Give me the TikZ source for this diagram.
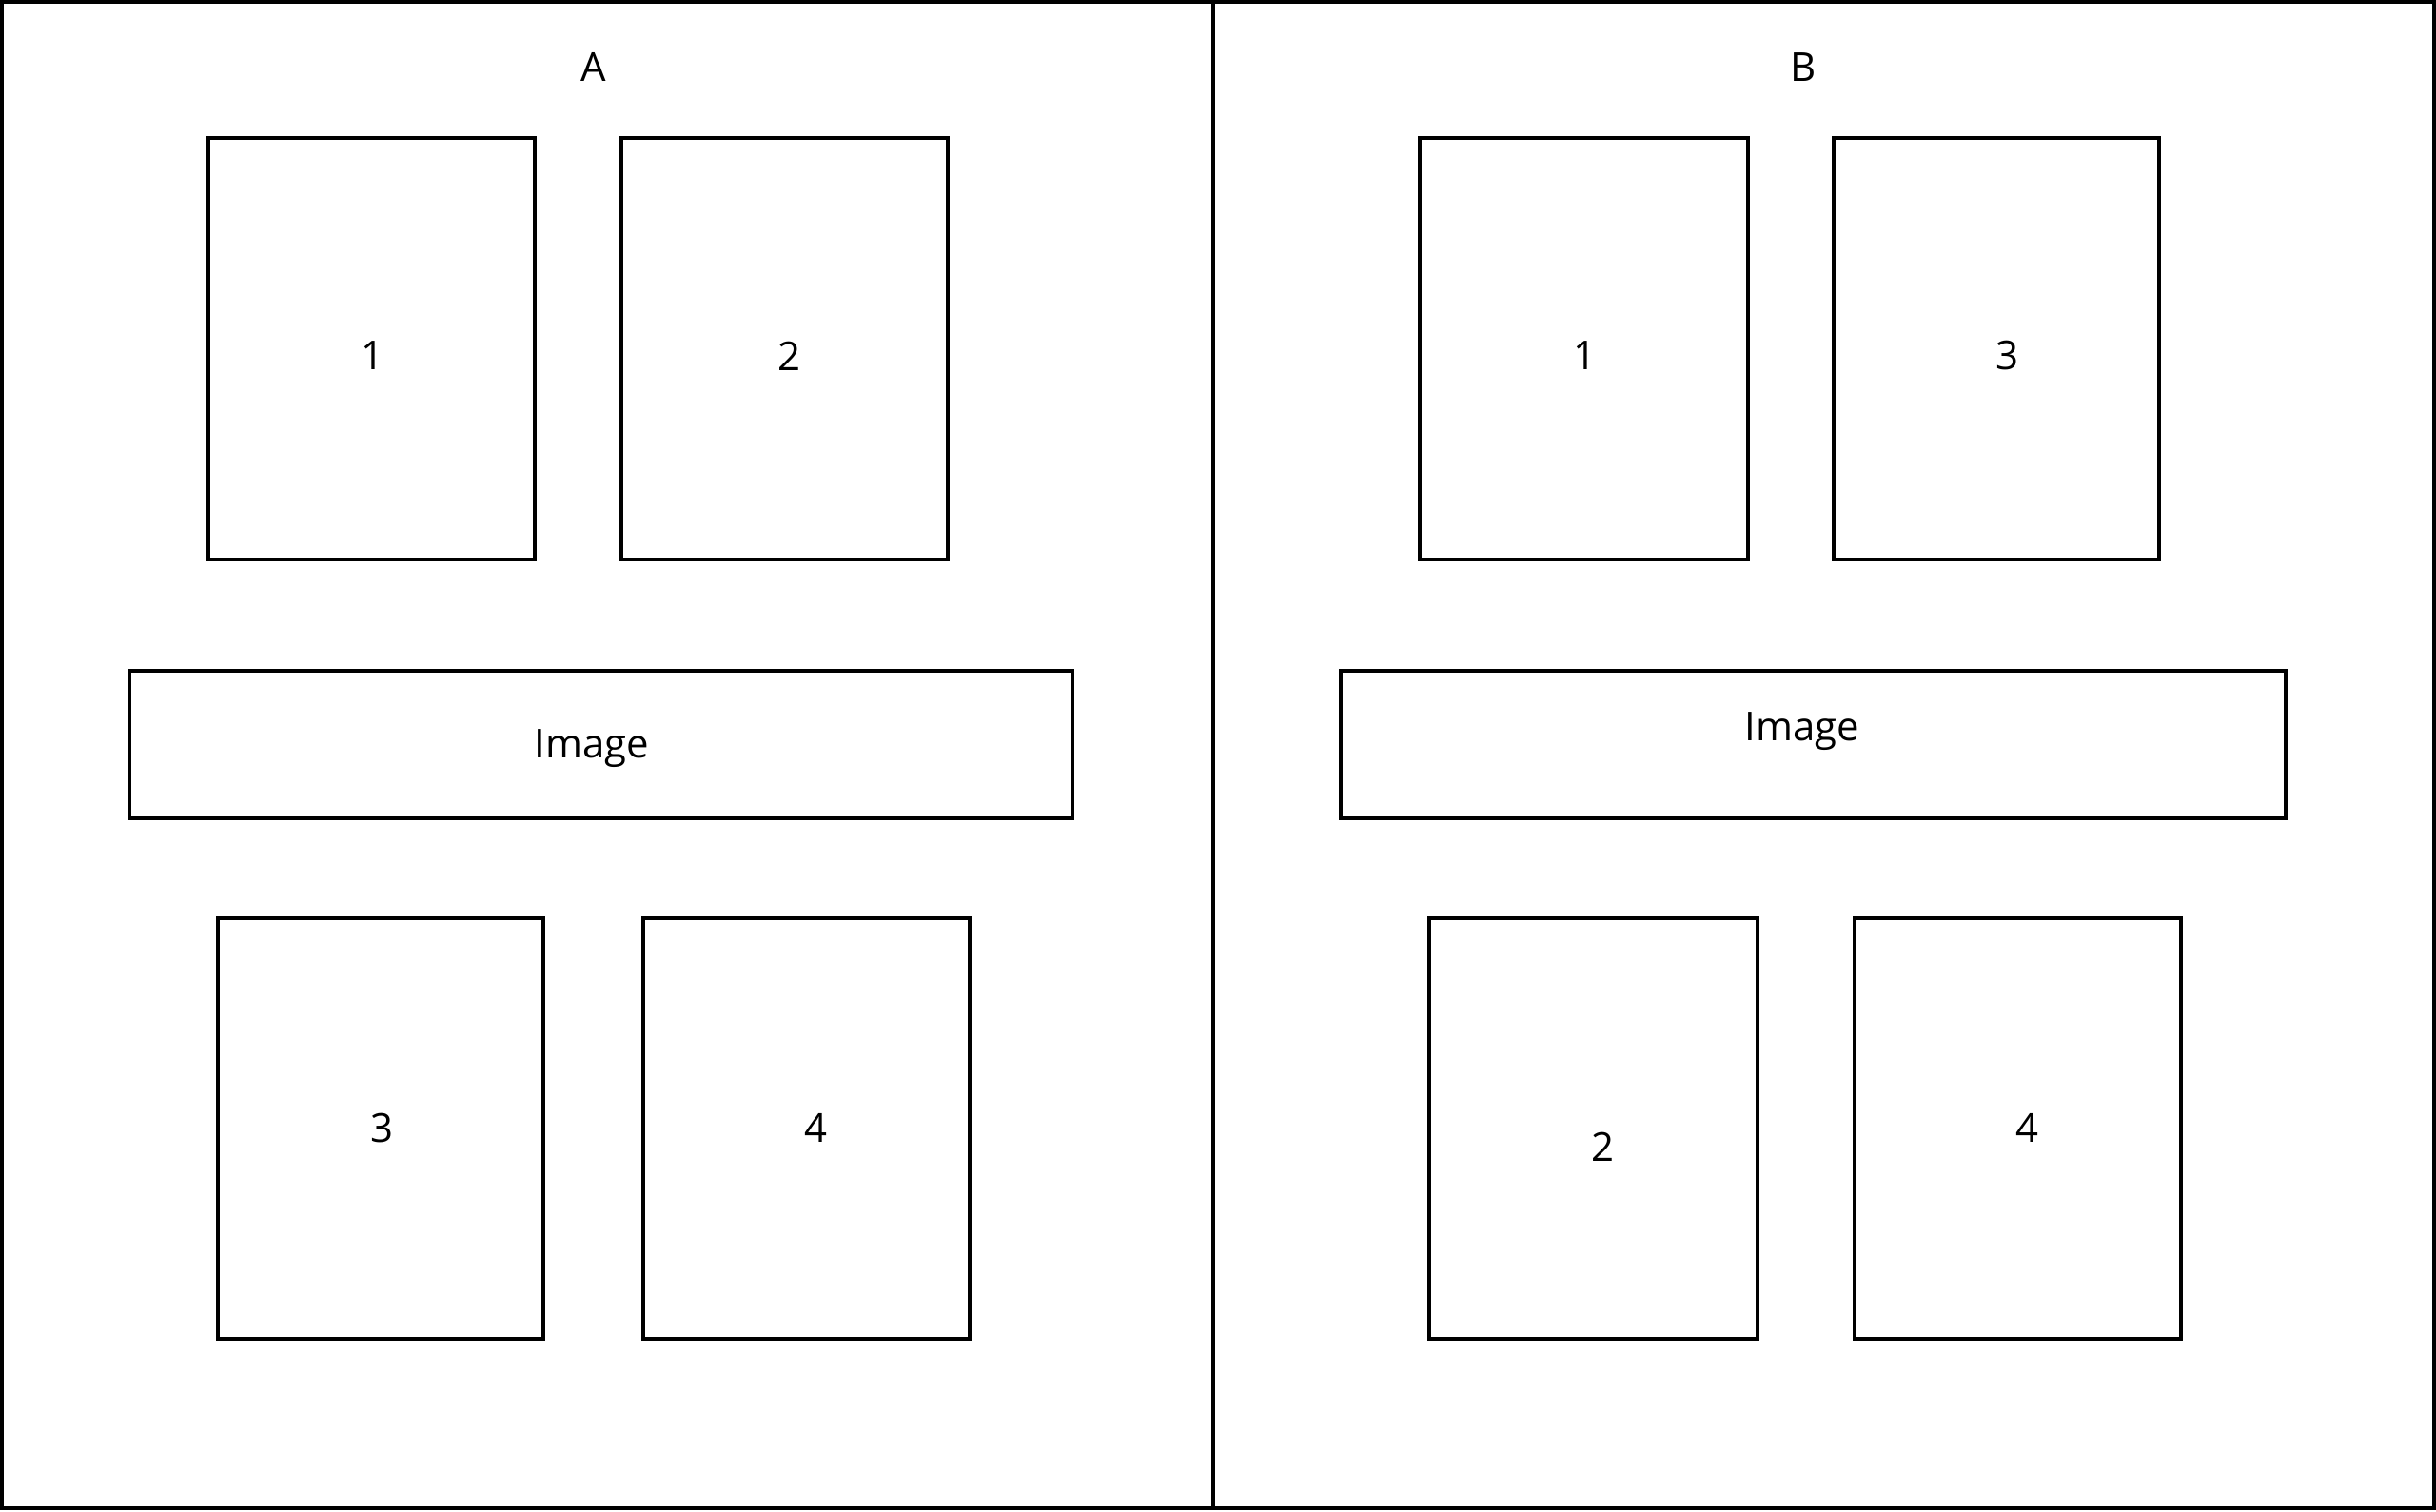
\documentclass[tikz,border=0pt]{standalone}
\usepackage{fontspec}
\setmainfont{Open Sans}
\usepackage{tikz}
\usetikzlibrary{positioning}

\begin{document}
\begin{tikzpicture}[x=0.01cm,y=-0.01cm,line width=0.7pt,
    panel/.style={draw,line width=0.7pt},
    lbl/.style={font=\fontsize{7.3}{9}\selectfont,inner sep=0pt}]
  \useasboundingbox (0,0) rectangle (1568,973);
  % frame and divider
  \draw[panel] (1,1) rectangle (1567,971);
  \coordinate (midtop) at (781,1);
  \coordinate (midbot) at (781,971);
  \draw (midtop)--(midbot);
  % page A
  \node[lbl] (titleA) at (382,43) {A};
  \draw[panel] (134,89) rectangle (344,360);   \node[lbl] (a1) at (240,229) {1};
  \draw[panel] (400,89) rectangle (610,360);   \node[lbl] (a2) at (508,229) {2};
  \draw[panel] (83,432) rectangle (690,527);   \node[lbl] (aimg) at (381,482) {Image};
  \draw[panel] (140,591) rectangle (350,862);  \node[lbl] (a3) at (246,726) {3};
  \draw[panel] (414,591) rectangle (624,862);  \node[lbl] (a4) at (525,726) {4};
  % page B
  \node[lbl] (titleB) at (1161,43) {B};
  \draw[panel] (914,89) rectangle (1125,360);  \node[lbl] (b1) at (1020,229) {1};
  \draw[panel] (1180,89) rectangle (1390,360); \node[lbl] (b3) at (1292,229) {3};
  \draw[panel] (863,432) rectangle (1471,527); \node[lbl] (bimg) at (1160,471) {Image};
  \draw[panel] (920,591) rectangle (1131,862); \node[lbl] (b2) at (1032,738) {2};
  \draw[panel] (1194,591) rectangle (1404,862);\node[lbl] (b4) at (1305,726) {4};
\end{tikzpicture}
\end{document}
